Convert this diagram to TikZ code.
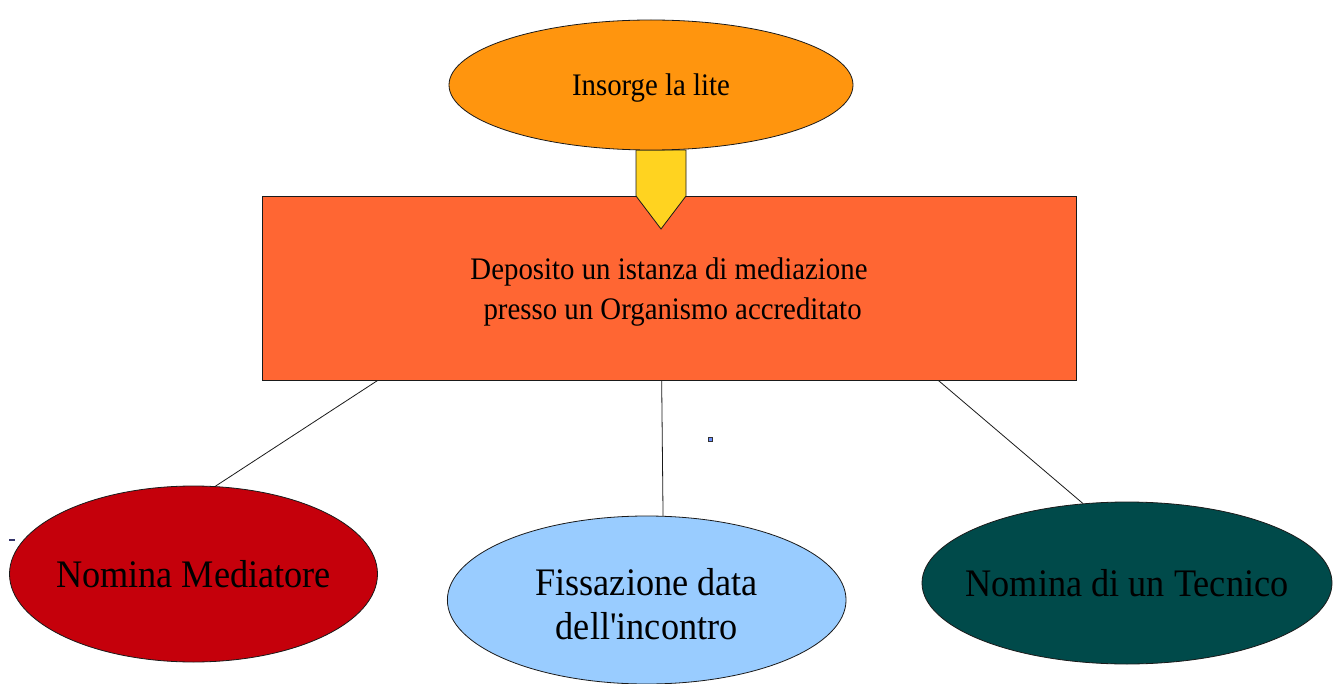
\documentclass[tikz,border=0pt]{standalone}
\usepackage{fontspec}
\setmainfont{Liberation Serif}
\newfontfamily\condf[FakeStretch=0.92]{Liberation Serif}
\newfontfamily\condb[FakeStretch=0.93]{Liberation Serif}
\usetikzlibrary{shapes.geometric,calc}
\definecolor{cOrange}{HTML}{FF950E}
\definecolor{cYellow}{HTML}{FFD320}
\definecolor{cRect}{HTML}{FF6633}
\definecolor{cRed}{HTML}{C5000B}
\definecolor{cBlue}{HTML}{99CCFF}
\definecolor{cTeal}{HTML}{004A4A}
\definecolor{cEdge}{HTML}{1A1A1A}
% #1 = extra height (content moves down by half of it)
\newcommand\pushdown[2]{\raisebox{0pt}[\dimexpr\height+#1\relax][\depth]{#2}}
\newcommand\twolines[2]{\begin{tabular}{@{}c@{}}#1\\#2\end{tabular}}
\newcommand\oneline[1]{\makebox[0pt][c]{#1}}
\begin{document}
\begin{tikzpicture}[x=0.75pt,y=-0.75pt,
  shapeedge/.style={draw=cEdge,line width=0.6pt},
  topell/.style={shapeedge,ellipse,inner sep=0pt,align=center,
    font=\condf\fontsize{23.5pt}{29.5pt}\selectfont},
  botell/.style={shapeedge,ellipse,inner sep=0pt,align=center,
    font=\condb\fontsize{29.25pt}{33pt}\selectfont},
  mainbox/.style={shapeedge,rectangle,inner sep=0pt,align=center,
    font=\condf\fontsize{23.5pt}{29.5pt}\selectfont},
  link/.style={draw=cEdge,line width=0.6pt}]
\useasboundingbox[fill=white] (0,0) rectangle (1338,684);

\node[mainbox,fill=cRect,minimum width=610.5pt,minimum height=138pt]
  (rect) at (669,288) {\pushdown{5.2pt}{\twolines{Deposito un istanza di mediazione}{\ presso un Organismo accreditato}}};

\coordinate (a1) at (636,150);
\coordinate (a2) at (686,150);
\coordinate (a3) at (686,196);
\coordinate (a4) at (661,229);
\coordinate (a5) at (636,196);
\draw[shapeedge,fill=cYellow,line join=miter] (a1) -- (a2) -- (a3) -- (a4) -- (a5) -- cycle;

\node[topell,fill=cOrange,minimum width=303pt,minimum height=97.5pt]
  (lite) at (651,85) {\pushdown{4.5pt}{\oneline{Insorge la lite}}};

\node[botell,fill=cRed,minimum width=276pt,minimum height=132pt]
  (med) at (193.5,574) {\oneline{Nomina Mediatore}};
\node[botell,fill=cBlue,minimum width=299pt,minimum height=126pt]
  (data) at (646.7,600) {\pushdown{12.8pt}{\twolines{Fissazione data}{dell'incontro}}};
\node[botell,fill=cTeal,minimum width=307.5pt,minimum height=121.5pt]
  (tec) at (1127,583) {\oneline{Nomina di un Tecnico}};

\draw[link] ($(rect.south west)!0.1425!(rect.south east)$) -- (med.76);
\draw[link] ($(rect.south west)!0.491!(rect.south east)$) -- (data.79.7);
\draw[link] ($(rect.south west)!0.8305!(rect.south east)$) -- (tec.119);

\filldraw[fill=cBlue!70!blue,draw=black!80,line width=0.4pt] (708,437.5) rectangle (712,441);
\fill[black!65!blue!60!gray] (9,538.5) rectangle (15,540.5);
\end{tikzpicture}
\end{document}
